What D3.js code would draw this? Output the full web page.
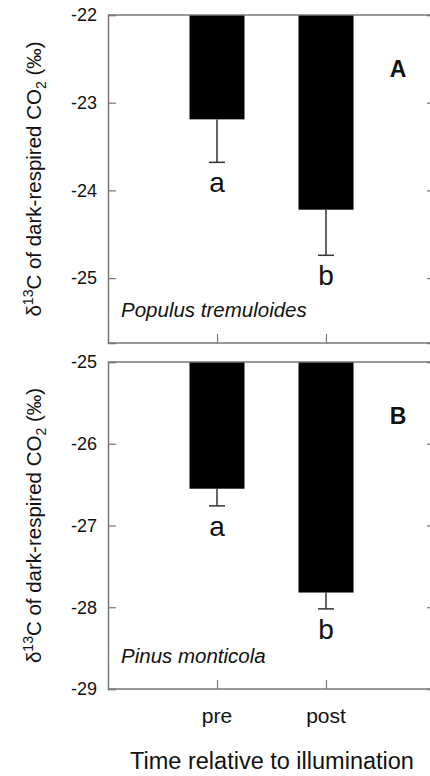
<!DOCTYPE html>
<html>
<head>
<meta charset="utf-8">
<script src="https://cdn.jsdelivr.net/npm/d3@7"></script>
<style>
  body { margin: 0; background: #fff; }
  text { font-family: "Liberation Sans", Arial, sans-serif; fill: #111; }
</style>
</head>
<body>
<div id="chart"></div>
<script>
// groups on the x axis
var groups = ["pre", "post"];
// panel A: Populus tremuloides
var popMean = [-23.19, -24.22];
var popSE = [0.49, 0.52];
var popLetters = ["a", "b"];
var popTicks = [-22, -23, -24, -25];
// panel B: Pinus monticola
var pinMean = [-26.55, -27.82];
var pinSE = [0.21, 0.20];
var pinLetters = ["a", "b"];
var pinTicks = [-25, -26, -27, -28, -29];

var cfg = { width: 430, height: 776, left: 108, right: 435 };

var panels = [
  { id: "A", name: "Populus tremuloides", mean: popMean, se: popSE, letters: popLetters,
    ticks: popTicks, domain: [-25.74, -22], top: 15, bottom: 343 },
  { id: "B", name: "Pinus monticola", mean: pinMean, se: pinSE, letters: pinLetters,
    ticks: pinTicks, domain: [-29, -25], top: 362, bottom: 689 }
];

var svg = d3.select("#chart").append("svg")
  .attr("width", cfg.width)
  .attr("height", cfg.height);

var x = d3.scalePoint()
  .domain(groups)
  .range([cfg.left, cfg.right])
  .padding(1);

var barW = 55;
var axisCol = "#777";

panels.forEach(function(p) {
  var y = d3.scaleLinear().domain(p.domain).range([p.bottom, p.top]);
  var g = svg.append("g");

  var rows = groups.map(function(k, i) {
    return { key: k, mean: p.mean[i], se: p.se[i], letter: p.letters[i] };
  });

  // bars hang from the top of the axis
  g.selectAll("rect.bar")
    .data(rows)
    .enter()
    .append("rect")
      .attr("class", "bar")
      .attr("x", function(d) { return x(d.key) - barW / 2; })
      .attr("y", y(p.domain[1]))
      .attr("width", barW)
      .attr("height", function(d) { return y(d.mean) - y(p.domain[1]); })
      .style("fill", "#000");

  // error bars (downward only)
  g.selectAll("line.err")
    .data(rows)
    .enter()
    .append("line")
      .attr("x1", function(d) { return x(d.key); })
      .attr("x2", function(d) { return x(d.key); })
      .attr("y1", function(d) { return y(d.mean); })
      .attr("y2", function(d) { return y(d.mean - d.se); })
      .style("stroke", "#333")
      .style("stroke-width", 1.5);
  g.selectAll("line.cap")
    .data(rows)
    .enter()
    .append("line")
      .attr("x1", function(d) { return x(d.key) - 8; })
      .attr("x2", function(d) { return x(d.key) + 8; })
      .attr("y1", function(d) { return y(d.mean - d.se); })
      .attr("y2", function(d) { return y(d.mean - d.se); })
      .style("stroke", "#333")
      .style("stroke-width", 1.5);

  // significance letters
  g.selectAll("text.letter")
    .data(rows)
    .enter()
    .append("text")
      .attr("x", function(d) { return x(d.key); })
      .attr("y", function(d) { return y(d.mean - d.se) + 30; })
      .attr("text-anchor", "middle")
      .style("font-size", "28px")
      .text(function(d) { return d.letter; });

  // left axis, ticks pointing inward
  var left = g.append("g")
    .attr("transform", "translate(" + cfg.left + ",0)")
    .call(d3.axisLeft(y).tickValues(p.ticks).tickSize(-8).tickPadding(11)
      .tickFormat(function(d) { return String(d); }));
  left.selectAll("text").style("font-size", "18px").attr("fill", "#111");

  var right = g.append("g")
    .attr("transform", "translate(" + cfg.right + ",0)")
    .call(d3.axisRight(y).tickValues(p.ticks).tickSize(-8).tickFormat(""));

  var bottom = g.append("g")
    .attr("transform", "translate(0," + p.bottom + ")")
    .call(d3.axisBottom(x).tickSize(-9).tickFormat(""));

  var top = g.append("g")
    .attr("transform", "translate(0," + p.top + ")")
    .call(d3.axisTop(x).tickSize(0).tickFormat(""));

  [left, right, bottom, top].forEach(function(a) {
    a.select(".domain").attr("stroke", axisCol).attr("stroke-width", 1.5);
    a.selectAll(".tick line").attr("stroke", axisCol).attr("stroke-width", 1.2);
  });
  // plain lines along top and bottom
  bottom.select(".domain").attr("d", "M" + cfg.left + ",0H" + cfg.right);
  top.select(".domain").attr("d", "M" + cfg.left + ",0H" + cfg.right);

  // panel letter
  g.append("text")
    .attr("x", 398)
    .attr("y", p.top + 62)
    .attr("text-anchor", "middle")
    .style("font-size", "23px")
    .style("font-weight", "bold")
    .text(p.id);

  // species name
  g.append("text")
    .attr("x", 121)
    .attr("y", p.bottom - 26)
    .style("font-size", "20.5px")
    .style("font-style", "italic")
    .text(p.name);

  // y axis title
  var t = g.append("text")
    .attr("transform", "translate(41," + ((p.top + p.bottom) / 2) + ") rotate(-90)")
    .attr("text-anchor", "middle")
    .style("font-size", "20.5px");
  t.append("tspan").text("\u03b4");
  t.append("tspan").attr("dy", -8).style("font-size", "14px").text("13");
  t.append("tspan").attr("dy", 8).text("C of dark-respired CO");
  t.append("tspan").attr("dy", 5).style("font-size", "14px").text("2");
  t.append("tspan").attr("dy", -5).text(" (\u2030)");
});

// x tick labels under the lower panel
var xb = panels[1].bottom;
svg.selectAll("text.xlab")
  .data(groups)
  .enter()
  .append("text")
    .attr("x", function(d) { return x(d); })
    .attr("y", xb + 34)
    .attr("text-anchor", "middle")
    .style("font-size", "21px")
    .text(function(d) { return d; });

svg.append("text")
  .attr("x", 272)
  .attr("y", 769)
  .attr("text-anchor", "middle")
  .style("font-size", "23.5px")
  .text("Time relative to illumination");
</script>
</body>
</html>
